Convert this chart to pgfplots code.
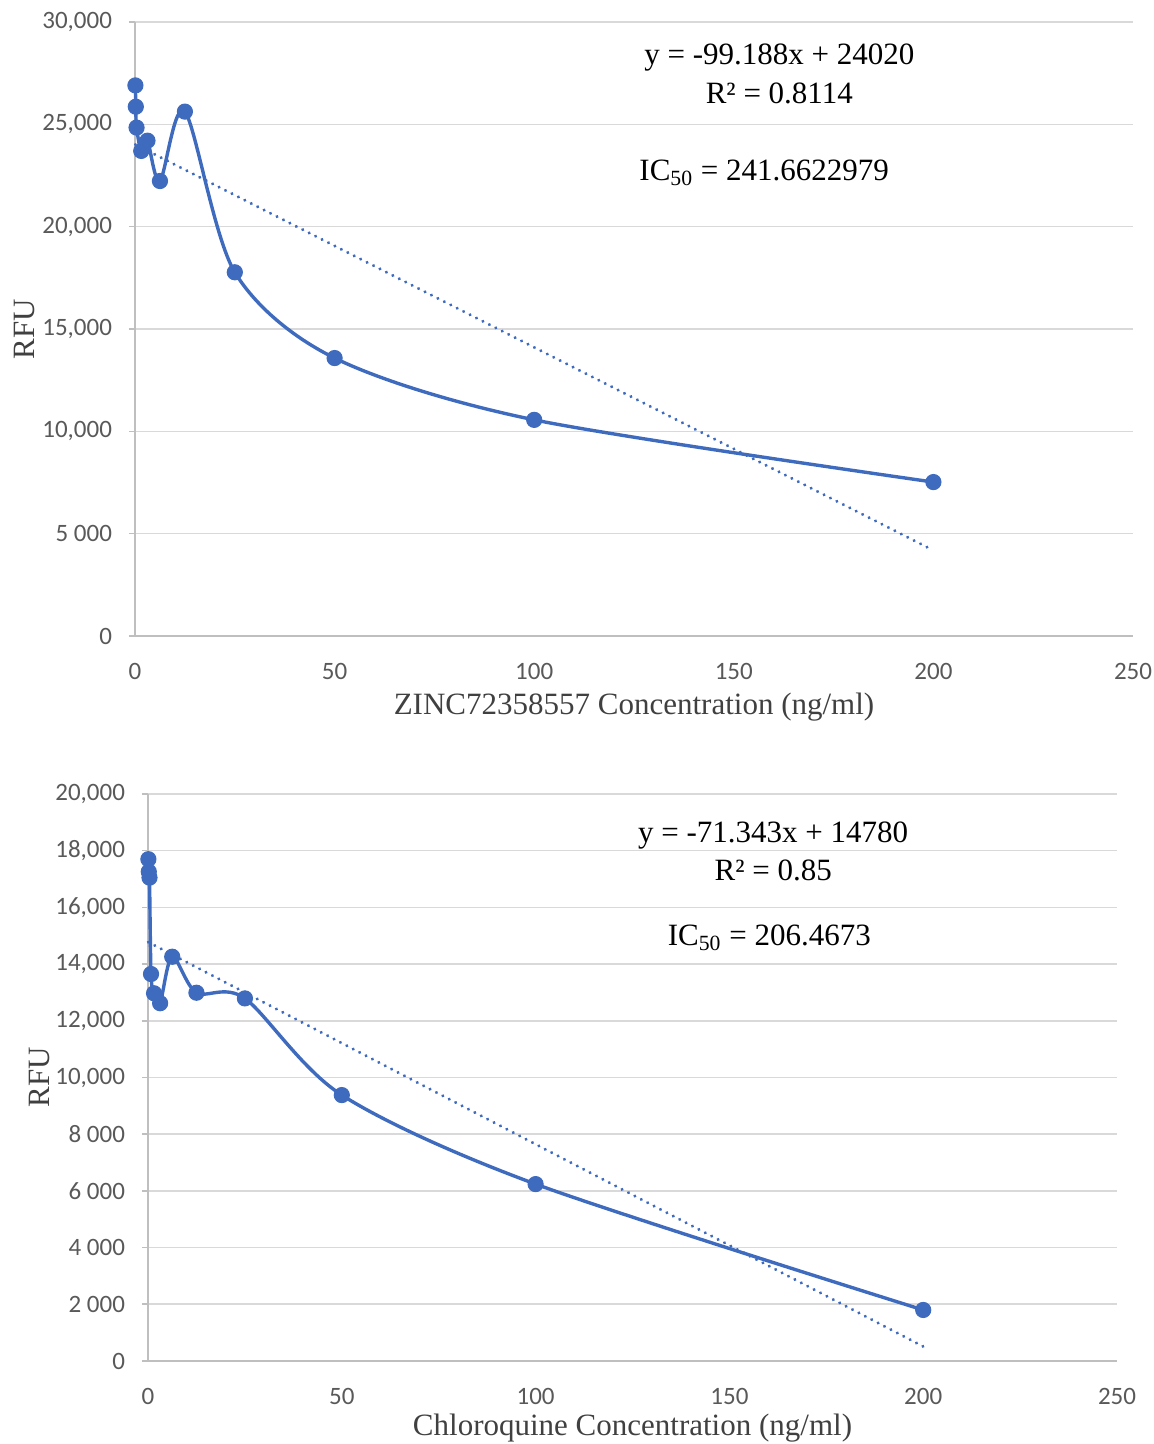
\documentclass[border=0pt]{standalone}
\usepackage{fontspec}
\setmainfont{Liberation Serif}
\newfontfamily\tickfamily{Carlito}
\usepackage{pgfplots}
\pgfplotsset{compat=1.18}
\definecolor{cLine}{HTML}{3F6BBF}
\definecolor{cGrid}{HTML}{D9D9D9}
\definecolor{cAxis}{HTML}{BFBFBF}
\definecolor{cTick}{HTML}{595959}
\definecolor{cTitle}{HTML}{404040}
\newcommand{\tickfont}{\tickfamily\fontsize{12.5}{14}\selectfont}
\newcommand{\titlefont}{\fontsize{15.5}{18}\selectfont}
\newcommand{\notefont}{\fontsize{15.5}{18}\selectfont}
\pgfplotsset{
  rfu/.style={
    scale only axis,
    anchor=south west,
    axis x line=bottom, axis y line=left,
    axis line style={cAxis, line width=0.8pt, -},
    xmin=0, xmax=250,
    xtick={0,50,100,150,200,250},
    xticklabels={0,50,100,150,200,250},
    scaled y ticks=false,
    ymajorgrids, grid style={cGrid, line width=0.8pt},
    major x tick style={draw=none},
    major y tick style={cAxis, line width=0.8pt},
    tick align=outside, major tick length=3pt,
    tick label style={font=\tickfont, text=cTick},
    yticklabel style={xshift=-5pt},
    xticklabel style={yshift=-7pt},
    xlabel style={font=\titlefont, text=cTitle},
    ylabel style={font=\titlefont, text=cTitle},
    clip=false,
  },
  data/.style={cLine, line width=1.7pt, smooth, mark=*, mark size=3.8pt,
    mark options={fill=cLine, draw=cLine, line width=0.5pt}},
  trend/.style={cLine, line width=1.7pt, line cap=round,
    dash pattern=on 0.01pt off 3.6pt},
}
\begin{document}
\begin{tikzpicture}
\path[use as bounding box] (0,0) rectangle (577pt,722pt);

% top panel: ZINC72358557
\begin{axis}[
  rfu,
  at={(67.5pt,404pt)}, width=499pt, height=307pt,
  ymin=0, ymax=30000,
  ytick={0,5000,10000,15000,20000,25000,30000},
  yticklabels={0,5 000,{10,000},{15,000},{20,000},{25,000},{30,000}},
  xlabel={ZINC72358557 Concentration (ng/ml)},
  ylabel={RFU},
  xlabel style={at={(axis description cs:0.5,0)}, anchor=center, yshift=-35.5pt},
  ylabel style={at={(axis description cs:0,0.5)}, anchor=center, yshift=55pt},
]
\addplot[trend] coordinates {(0.1,24010.1) (200,4182.4)};
\addplot[data] coordinates {
  (0.1,26900) (0.2,25860) (0.39,24840) (1.5625,23700) (3.125,24200)
  (6.25,22230) (12.5,25620) (25,17770) (50,13580) (100,10560) (200,7520)};
\node[font=\notefont, anchor=center] at (axis cs:161.4,28240) {y = -99.188x + 24020};
\node[font=\notefont, anchor=center] at (axis cs:161.4,26530) {R² = 0.8114};
\node[font=\notefont, anchor=center] at (axis cs:157.6,22620) {IC\textsubscript{50} = 241.6622979};
\end{axis}

% bottom panel: Chloroquine
\begin{axis}[
  rfu,
  at={(74pt,41.5pt)}, width=484.5pt, height=283.5pt,
  ymin=0, ymax=20000,
  ytick={0,2000,4000,6000,8000,10000,12000,14000,16000,18000,20000},
  yticklabels={0,2 000,4 000,6 000,8 000,{10,000},{12,000},{14,000},{16,000},{18,000},{20,000}},
  xlabel={Chloroquine Concentration (ng/ml)},
  ylabel={RFU},
  xlabel style={at={(axis description cs:0.5,0)}, anchor=center, yshift=-33.5pt},
  ylabel style={at={(axis description cs:0,0.5)}, anchor=center, yshift=54pt},
]
\addplot[trend] coordinates {(0.1,14772.9) (200,511.4)};
\addplot[data] coordinates {
  (0.1,17700) (0.2,17260) (0.39,17050) (0.78,13650) (1.5625,12970)
  (3.125,12620) (6.25,14260) (12.5,12990) (25,12790) (50,9380) (100,6240) (200,1800)};
\node[font=\notefont, anchor=center] at (axis cs:161.3,18520) {y = -71.343x + 14780};
\node[font=\notefont, anchor=center] at (axis cs:161.3,17320) {R² = 0.85};
\node[font=\notefont, anchor=center] at (axis cs:160.3,14920) {IC\textsubscript{50} = 206.4673};
\end{axis}
\end{tikzpicture}
\end{document}
